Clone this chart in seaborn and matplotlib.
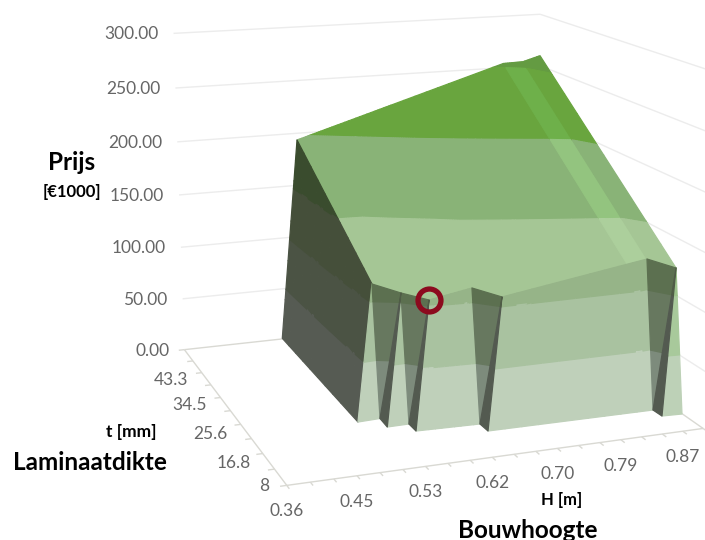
import numpy as np
import matplotlib
matplotlib.use('Agg')
import matplotlib.pyplot as plt
from mpl_toolkits.mplot3d import proj3d
from mpl_toolkits.mplot3d.art3d import Poly3DCollection
import seaborn as sns

# Price surface: height H [m], laminate thickness t [mm], price [EUR 1000]
FOOT_H = [0.5038, 0.5008, 0.5309, 0.5298, 0.5588, 0.5588, 0.6426, 0.6429, 0.8697, 0.8704, 0.8977]
FOOT_T = [52.33, 22.10, 22.31, 19.65, 19.71, 17.52, 17.17, 14.97, 14.77, 12.79, 12.61]
RIDGE_H = [0.5282, 0.5609, 0.5885, 0.6450, 0.6731, 0.8487, 0.8773, 0.9001]
RIDGE_T = [23.99, 22.61, 20.39, 20.22, 17.66, 18.38, 18.50, 15.46]
RIDGE_P = [115, 108, 105, 112, 108, 123.5, 126, 123]
BACK_H = [0.5235, 0.8452, 0.8712, 0.8864]
BACK_T = [50.13, 52.85, 51.87, 49.67]
BACK_P = [197, 253, 255, 263]

PRICE_TICKS = [0, 50, 100, 150, 200, 250, 300]
H_TICK_LABELS = ['0.36', '0.45', '0.53', '0.62', '0.70', '0.79', '0.87']
T_TICK_LABELS = ['8', '16.8', '25.6', '34.5', '43.3']
H_MIN, H_MAX = 0.36, 0.8983
T_MIN, T_MAX = 8.0, 52.1
H_STEP = (H_MAX - H_MIN) / 19
T_STEP = (T_MAX - T_MIN) / 10

# Band colours from 0-50 upwards, one set per kind of face
SHADES = {
    'plane': ['#BDD0B7', '#A9C6A0', '#A5C695', '#89B377', '#69A53E', '#649B42'],
    'strip': ['#BDD0B7', '#A9C6A0', '#ACCF9C', '#93C47F', '#6EB04A', '#649B42'],
    'wall': ['#565B53', '#4B5344', '#454F3A', '#3A4C2E', '#3A4C2E', '#3A4C2E'],
    'front': ['#BFD0BA', '#A9C2A0', '#96B488', '#96B488', '#96B488', '#96B488'],
    'wedge': ['#7D8B7C', '#67785F', '#5C7050', '#5C7050', '#5C7050', '#5C7050'],
    'sliver': ['#535A50', '#535A50', '#4F5C46', '#4F5C46', '#4F5C46', '#4F5C46'],
    'edge': ['#BDD1B7', '#A8C99B', '#9CC28C', '#9CC28C', '#9CC28C', '#9CC28C'],
}
LINE_GREY = '#ECECEC'
AXIS_GREY = '#D9D9D3'
TICK_TEXT = '#666666'
RING = '#8C0A1E'

sns.set_theme(style='white')
plt.rcParams['font.family'] = ['Lato', 'DejaVu Sans']

fig = plt.figure(figsize=(7.05, 5.4), dpi=100, facecolor='white')
ax = fig.add_axes([251.33 / 705, 140.40 / 540, 343.74 / 705, 343.74 / 540], projection='3d')
ax.computed_zorder = False
ax.set_axis_off()
ax.view_init(elev=14.3994, azim=-110.0162)
ax.set_box_aspect((1.1995, 1.1778, 1), zoom=1.9087)
ax.set_xlim(H_MIN, H_MAX)
ax.set_ylim(T_MIN, T_MAX)
ax.set_zlim(0, 300)


def clip_z(poly, level, keep_above):
    """Cut a 3D polygon with a horizontal plane."""
    out = []
    for i, a in enumerate(poly):
        b = poly[(i + 1) % len(poly)]
        a_in = (a[2] >= level) == keep_above
        b_in = (b[2] >= level) == keep_above
        if a_in:
            out.append(a)
        if a_in != b_in:
            f = (level - a[2]) / (b[2] - a[2])
            out.append(a + f * (b - a))
    return out


def mesh_quad(a, b, c, d, n=10):
    """Split a bilinear patch a-b-c-d into small quads."""
    cells = []
    for i in range(n):
        for j in range(n):
            u0, u1, v0, v1 = i / n, (i + 1) / n, j / n, (j + 1) / n
            pt = lambda u, v: (1 - v) * ((1 - u) * a + u * b) + v * ((1 - u) * d + u * c)
            cells.append([pt(u0, v0), pt(u1, v0), pt(u1, v1), pt(u0, v1)])
    return cells


def add_faces(polys, kind, zorder):
    """Colour each polygon piece by the price band it lies in."""
    levels = [0, 50, 100, 150, 200, 250, 1000]
    pieces, colours = [], []
    for poly in polys:
        for k in range(len(levels) - 1):
            part = clip_z([np.asarray(v, float) for v in poly], levels[k], True)
            if len(part) >= 3:
                part = clip_z(part, levels[k + 1], False)
            if len(part) >= 3:
                pieces.append(np.array(part))
                colours.append(SHADES[kind][k])
    col = Poly3DCollection(pieces, facecolors=colours, edgecolors=colours, linewidths=0.9, zorder=zorder)
    col.set_clip_on(False)
    ax.add_collection3d(col, autolim=False)


def floor_line(h, t, z, colour=LINE_GREY, lw=1.0, zorder=1):
    ax.plot(h, t, z, color=colour, lw=lw, zorder=zorder, clip_on=False, solid_capstyle='butt')


foot = [np.array(v, float) for v in zip(FOOT_H, FOOT_T, [0] * len(FOOT_H))]
ridge = [np.array(v, float) for v in zip(RIDGE_H, RIDGE_T, RIDGE_P)]
back = [np.array(v, float) for v in zip(BACK_H, BACK_T, BACK_P)]
b0, b1, b2, b3, b4, b5, b6, b7, b8, b9, b10 = foot
r1, r2, r3, r4, r5, e1, r6, r7 = ridge
p0, p1, p2, p3 = back

# Back walls and floor outline
for price in PRICE_TICKS[1:]:
    floor_line([H_MIN, H_MAX], [T_MAX, T_MAX], [price, price])
    floor_line([H_MAX, H_MAX], [T_MAX, T_MIN], [price, price])
floor_line([H_MIN, H_MAX], [T_MAX, T_MAX], [0, 0], AXIS_GREY)
floor_line([H_MAX, H_MAX], [T_MAX, T_MIN], [0, 0], AXIS_GREY)
floor_line([H_MIN, H_MAX], [T_MIN, T_MIN], [0, 0], AXIS_GREY, zorder=2)
floor_line([H_MIN, H_MIN], [T_MIN, T_MAX], [0, 0], AXIS_GREY, zorder=2)
for i in range(20):
    h = H_MIN + i * H_STEP
    floor_line([h, h], [T_MIN, T_MIN - 0.9], [0, 0], AXIS_GREY, zorder=2)
for i in range(11):
    t = T_MIN + i * T_STEP
    floor_line([H_MIN, H_MIN - 0.008], [t, t], [0, 0], AXIS_GREY, zorder=2)

# Upper surface: the sawtooth ridge is joined to the rear edge column by column
front_run = [r1, r2, r3, r4, r5, e1]
span = e1[0] - r1[0]
rear_run = [p0 + (v[0] - r1[0]) / span * (p1 - p0) for v in front_run]
plane_cells = []
for i in range(len(front_run) - 1):
    plane_cells += mesh_quad(rear_run[i], rear_run[i + 1], front_run[i + 1], front_run[i])
add_faces(plane_cells, 'plane', 3)
add_faces(mesh_quad(p1, p2, r6, e1), 'strip', 3)
add_faces(mesh_quad(p2, p3, r7, r6), 'plane', 3)

# Dark side wall on the low-H end
add_faces(mesh_quad(b0, p0, r1, b1), 'wall', 4)

# Front faces with their staircase foot
add_faces([[r1, b1, b2], [r2, b3, b4]], 'front', 5)
add_faces(mesh_quad(r3, r4, b6, b5) + mesh_quad(r5, r6, b8, b7), 'front', 5)
add_faces([[r7, b9, b10]], 'edge', 5)
add_faces([[r1, r2, b2], [r2, r3, b4], [r4, r5, b6], [r6, r7, b8]], 'wedge', 6)
add_faces([[r2, b2, b3], [r3, b4, b5], [r5, b6, b7], [r7, b8, b9]], 'sliver', 7)

# Highlighted design point
ax.plot([r3[0]], [r3[1]], [r3[2]], marker='o', ms=16.5, mfc='none', mec=RING, mew=3.8, zorder=9, clip_on=False)

ax.set_xlim(H_MIN, H_MAX)
ax.set_ylim(T_MIN, T_MAX)
ax.set_zlim(0, 300)

# Tick labels sit at a small pixel offset from their projected tick
M = ax.get_proj()


def tick_label(h, t, z, text, dx, dy, ha):
    x, y, _ = proj3d.proj_transform(h, t, z, M)
    ax.annotate(text, (x, y), xytext=(dx, dy), textcoords='offset pixels', ha=ha, va='center',
                color=TICK_TEXT, fontsize=12.5, annotation_clip=False)


for price in PRICE_TICKS:
    tick_label(H_MIN, T_MAX, price, f'{price:.2f}', -15, -1, 'right')
for i, text in enumerate(H_TICK_LABELS):
    tick_label(H_MIN + 3 * i * H_STEP, T_MIN, 0, text, 0, -26, 'center')
t_offsets = [(-18, -1), (-12, -9), (-13, -10), (-14, -8), (-13, -7)]
for i, text in enumerate(T_TICK_LABELS):
    tick_label(H_MIN, T_MIN + 2 * i * T_STEP, 0, text, t_offsets[i][0], t_offsets[i][1], 'right')


def caption(px, py, text, size):
    fig.text(px / 705, 1 - py / 540, text, ha='center', va='center', fontsize=size, fontweight='bold', color='black')


caption(72, 163, 'Prijs', 17.5)
caption(72, 192, '[€1000]', 12)
caption(131, 432, 't [mm]', 12.5)
caption(90, 463, 'Laminaatdikte', 17.5)
caption(562, 500, 'H [m]', 12)
caption(528, 530, 'Bouwhoogte', 17.5)

fig.savefig('out.png', dpi=100, facecolor='white')
